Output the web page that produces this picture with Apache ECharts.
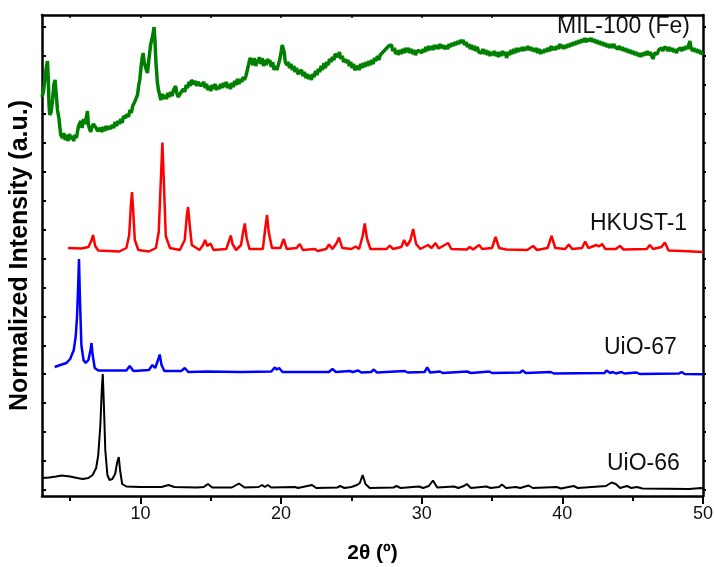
<!DOCTYPE html>
<html>
<head>
<meta charset="utf-8">
<script src="https://cdn.jsdelivr.net/npm/echarts@6/dist/echarts.min.js"></script>
<style>html,body{margin:0;padding:0;background:#fff}#c{width:714px;height:567px}</style>
</head>
<body>
<div id="c"></div>
<script>
// x = 2θ (degrees), y = normalized intensity (stacked, arbitrary units)
const seriesNames = ['MIL-100 (Fe)', 'HKUST-1', 'UiO-67', 'UiO-66'];
const xLabelValues = [10, 20, 30, 40, 50];
const xMinorValues = [5, 15, 25, 35, 45];

const uio66 = [[3.0,22],[3.5,22.5],[4.0,23.5],[4.4,24.5],[5.0,23.5],[5.5,22],[5.9,21],[6.3,22],[6.6,25],[6.85,32],[7.0,45],[7.15,75],[7.25,110],[7.32,126],[7.4,95],[7.5,50],[7.65,25],[7.8,20],[8.0,21],[8.2,26],[8.35,38],[8.46,43],[8.55,30],[8.7,16],[9.0,13.5],[10,13],[11.5,13],[12.0,15],[12.4,13],[14.0,12.5],[14.5,13],[14.8,16],[15.1,12.5],[16.5,12.5],[17.0,16.5],[17.4,12.5],[18.4,13],[18.65,15],[18.85,13],[19.05,15],[19.3,12.5],[21.0,13],[21.2,12],[22.2,15],[22.5,12],[24.0,12.5],[24.2,14],[24.5,12],[25.0,13],[25.4,15],[25.6,17],[25.8,25],[26.0,16],[26.3,12],[28.0,12.5],[28.2,14],[28.5,12],[29.8,13.5],[30.1,12],[30.5,14],[30.8,19.5],[31.1,12.5],[32.3,13.5],[32.6,12],[33.0,14],[33.2,16],[33.5,12],[34.6,13.5],[34.9,12],[35.5,13],[35.7,15.5],[36.0,12],[36.7,13],[37.0,12],[37.6,14.5],[37.9,12],[39.6,13],[39.9,11.5],[40.8,14],[41.1,12],[43.1,14],[43.5,17.5],[43.8,16],[44.1,12],[44.6,14],[44.9,12],[45.3,13],[45.7,11.5],[49.0,11],[49.9,12],[50,11]];

const uio67 = [[3.9,133],[4.3,135],[4.74,137],[5.0,141],[5.26,150],[5.4,164],[5.49,183],[5.56,210],[5.63,241],[5.7,200],[5.8,155],[5.95,140],[6.1,137],[6.3,140],[6.45,150],[6.52,157],[6.6,145],[6.75,132],[7.0,129.5],[9.0,129.5],[9.24,134],[9.5,129],[10.6,130],[10.85,135],[11.05,132],[11.25,140],[11.37,145.5],[11.5,135],[11.7,129],[12.9,129],[13.15,132],[13.4,128],[14.7,128.5],[17.0,128],[17.1,129.5],[17.3,128],[19.3,128.5],[19.55,132.5],[19.7,130.5],[19.86,132],[20.1,128],[23.4,128],[23.65,131],[23.9,128],[24.88,129],[25.1,128],[25.48,129.5],[25.7,127.5],[26.4,128],[26.6,130.5],[26.8,127.5],[28.8,129],[29.0,127.5],[30.2,128],[30.39,132.5],[30.6,127.5],[31.29,128.5],[31.5,127],[33.23,128.5],[33.5,127],[34.8,128.5],[35.0,127],[37.0,127.5],[37.17,129.5],[37.4,127],[39.18,128],[39.4,126.5],[43.0,127],[43.14,129.5],[43.4,127],[43.6,128],[43.8,126.5],[44.2,128],[44.4,126.5],[45.28,127.5],[45.5,126],[48.3,126.5],[48.48,128],[48.7,126],[50,125.7]];

const hkust1 = [[4.85,252],[5.8,251.5],[6.3,253],[6.5,259],[6.63,265],[6.78,254],[7.0,249.5],[8.5,248.5],[9.0,252],[9.2,265],[9.32,295],[9.4,308],[9.48,290],[9.6,260],[9.85,250],[10.6,248.5],[11.1,252],[11.3,268],[11.45,320],[11.56,357.5],[11.66,320],[11.8,264],[12.1,252],[12.8,250],[13.15,260],[13.3,285],[13.39,293],[13.48,278],[13.65,255],[14.2,250],[14.45,255],[14.6,260],[14.75,254],[14.98,256.5],[15.2,250],[16.1,251],[16.3,259],[16.42,264.5],[16.55,256],[16.8,250],[17.15,255],[17.3,268],[17.42,276.5],[17.55,262],[17.75,251],[18.7,251],[18.88,272],[19.0,285],[19.12,268],[19.35,252],[19.95,252],[20.19,261],[20.4,251],[21.1,252],[21.33,256],[21.55,250],[22.4,251],[22.6,249],[23.2,251],[23.41,255.5],[23.65,251],[23.95,257],[24.12,262.5],[24.35,252],[25.0,251],[25.3,253.5],[25.55,251],[25.8,264],[25.95,276.5],[26.1,262],[26.35,251],[27.5,251],[27.73,254.5],[27.95,251],[28.55,253],[28.75,260],[28.95,254],[29.2,260],[29.39,271],[29.6,256],[29.9,251],[30.45,255],[30.7,252],[30.98,257],[31.2,251.5],[31.88,257],[32.1,251],[33.2,250.5],[33.42,253],[33.65,250.5],[34.08,255],[34.3,251],[35.0,252],[35.25,263],[35.5,252],[36.0,250.5],[37.5,250],[37.92,254],[38.2,250],[38.95,252],[39.23,264],[39.5,252],[40.2,251],[40.46,255.5],[40.7,251],[41.4,252],[41.62,258.5],[41.85,252],[42.43,255],[42.6,253.5],[42.83,256],[43.05,251],[43.8,251],[44.09,254],[44.35,250.5],[46.0,251],[46.22,255],[46.45,251],[47.05,253],[47.29,257.5],[47.55,249.5],[48.5,249],[50,248]];

const mil100 = [[3.0,403],[3.1,408],[3.2,420],[3.3,432],[3.39,439],[3.45,420],[3.5,395],[3.55,385],[3.65,388],[3.75,400],[3.85,416],[3.93,420],[4.0,408],[4.1,390],[4.2,382],[4.33,365],[4.45,362],[4.55,367],[4.65,360],[4.75,365],[4.85,359],[4.95,366],[5.05,361],[5.15,364],[5.25,359],[5.35,365],[5.45,362],[5.52,368],[5.6,374],[5.7,376],[5.76,379],[5.85,372],[5.95,381],[6.05,376],[6.15,382],[6.23,389],[6.3,375],[6.38,371],[6.46,368],[6.55,373],[6.65,376],[6.77,378],[6.85,372],[6.95,369],[7.06,367],[7.15,372],[7.25,368],[7.35,373],[7.45,369],[7.55,374],[7.65,370],[7.75,374],[7.85,371],[8.0,375],[8.1,372],[8.2,378],[8.3,374],[8.4,379],[8.5,376],[8.6,381],[8.7,377],[8.8,384],[8.95,382],[9.05,386],[9.15,383],[9.25,390],[9.35,387],[9.45,394],[9.54,392],[9.62,399],[9.7,402],[9.79,405],[9.88,415],[9.95,420],[10.05,434],[10.12,442],[10.19,447],[10.26,438],[10.35,440],[10.42,430],[10.5,427],[10.58,438],[10.65,440],[10.72,455],[10.8,460],[10.88,465],[10.97,473],[11.03,460],[11.1,438],[11.2,418],[11.28,410],[11.37,405],[11.45,400],[11.55,406],[11.65,401],[11.75,405],[11.85,401],[11.95,407],[12.05,403],[12.15,408],[12.25,404],[12.35,410],[12.45,412],[12.5,414],[12.58,407],[12.68,403],[12.75,402],[12.85,407],[12.95,405],[13.05,411],[13.15,408],[13.25,415],[13.35,412],[13.45,418],[13.55,414],[13.62,420],[13.7,422],[13.8,416],[13.9,419],[14.0,414],[14.1,418],[14.22,420],[14.3,414],[14.4,415],[14.5,418],[14.6,412],[14.7,416],[14.8,410],[14.9,414],[15.0,409],[15.1,415],[15.2,411],[15.3,416],[15.4,410],[15.5,414],[15.6,411],[15.7,416],[15.8,412],[15.9,417],[16.0,413],[16.1,418],[16.2,412],[16.3,416],[16.4,411],[16.5,417],[16.6,413],[16.7,419],[16.8,415],[16.9,421],[17.0,416],[17.1,421],[17.2,418],[17.3,423],[17.4,420],[17.5,424],[17.6,430],[17.7,436],[17.8,442],[17.9,444],[18.0,435],[18.1,442],[18.2,434],[18.3,440],[18.37,437],[18.45,443],[18.55,436],[18.65,442],[18.75,434],[18.85,440],[18.95,435],[19.05,441],[19.15,437],[19.2,440],[19.3,433],[19.4,438],[19.5,430],[19.6,434],[19.7,430],[19.79,432],[19.9,440],[20.0,448],[20.08,455],[20.14,457],[20.22,448],[20.3,438],[20.43,435],[20.5,438],[20.6,432],[20.7,436],[20.8,430],[20.9,434],[21.0,428],[21.1,432],[21.2,426],[21.33,427],[21.45,430],[21.55,424],[21.65,428],[21.75,422],[21.85,426],[21.95,421],[22.05,425],[22.16,420],[22.25,426],[22.35,423],[22.45,429],[22.55,425],[22.65,431],[22.75,428],[22.85,434],[22.95,430],[23.05,437],[23.15,432],[23.25,438],[23.35,435],[23.45,441],[23.55,438],[23.65,443],[23.75,440],[23.85,446],[23.94,447],[24.05,443],[24.15,448],[24.25,441],[24.35,444],[24.45,438],[24.55,441],[24.65,437],[24.75,440],[24.85,434],[24.95,438],[25.05,432],[25.15,436],[25.25,430],[25.36,428],[25.45,434],[25.55,430],[25.65,436],[25.75,432],[25.85,437],[25.95,433],[26.05,438],[26.15,434],[26.25,439],[26.35,435],[26.45,440],[26.54,436],[26.65,442],[26.75,439],[26.85,444],[26.95,440],[27.05,445],[27.15,443],[27.25,448],[27.37,447],[27.45,451],[27.55,449],[27.65,454],[27.73,453],[27.85,455],[27.95,449],[28.05,452],[28.15,446],[28.25,450],[28.32,445],[28.45,450],[28.55,446],[28.65,451],[28.75,447],[28.85,452],[28.92,448],[29.05,452],[29.15,447],[29.25,451],[29.35,446],[29.45,450],[29.55,445],[29.63,445],[29.75,450],[29.87,452],[30.0,447],[30.1,451],[30.2,448],[30.3,453],[30.4,449],[30.5,454],[30.6,450],[30.7,454],[30.8,450],[30.9,455],[31.0,451],[31.1,455],[31.2,451],[31.3,456],[31.4,452],[31.5,455],[31.6,451],[31.76,454],[31.85,451],[31.95,456],[32.05,453],[32.15,457],[32.25,454],[32.35,458],[32.45,455],[32.55,459],[32.65,456],[32.75,460],[32.85,457],[32.95,460],[33.05,455],[33.15,458],[33.25,453],[33.35,456],[33.45,451],[33.55,455],[33.65,450],[33.75,454],[33.85,449],[33.95,453],[34.05,448],[34.13,450],[34.25,447],[34.35,451],[34.45,446],[34.55,450],[34.65,445],[34.75,449],[34.85,444],[34.95,448],[35.05,445],[35.15,449],[35.25,444],[35.35,448],[35.45,443],[35.55,448],[35.65,444],[35.75,449],[35.85,445],[35.95,448],[36.03,442],[36.15,448],[36.25,445],[36.35,450],[36.45,446],[36.55,451],[36.65,447],[36.75,452],[36.85,448],[36.95,452],[37.05,449],[37.15,453],[37.25,449],[37.35,453],[37.45,450],[37.55,454],[37.65,450],[37.75,453],[37.85,449],[37.95,452],[38.05,448],[38.15,452],[38.25,447],[38.35,451],[38.45,446],[38.55,450],[38.65,447],[38.75,451],[38.85,448],[38.95,452],[39.1,449],[39.2,454],[39.3,450],[39.4,453],[39.5,450],[39.6,454],[39.7,451],[39.82,456],[39.9,452],[40.0,455],[40.1,451],[40.2,455],[40.3,452],[40.4,456],[40.5,453],[40.6,457],[40.7,454],[40.8,458],[40.9,455],[41.0,459],[41.1,456],[41.2,460],[41.3,457],[41.4,461],[41.5,458],[41.6,462],[41.7,458],[41.8,461],[41.95,459],[42.05,462],[42.15,458],[42.25,461],[42.35,457],[42.45,460],[42.55,456],[42.65,459],[42.75,455],[42.85,458],[42.95,454],[43.05,457],[43.15,453],[43.25,456],[43.35,452],[43.45,456],[43.55,452],[43.65,456],[43.75,453],[43.85,455],[43.95,451],[44.05,454],[44.15,450],[44.25,453],[44.35,449],[44.45,452],[44.55,448],[44.65,451],[44.75,447],[44.85,450],[44.95,446],[45.05,449],[45.15,445],[45.25,448],[45.35,444],[45.45,447],[45.55,443],[45.65,447],[45.75,444],[45.85,448],[45.95,445],[46.05,449],[46.15,445],[46.25,448],[46.35,444],[46.46,441],[46.55,447],[46.65,449],[46.75,446],[46.85,450],[46.95,448],[47.05,452],[47.15,449],[47.25,453],[47.41,452],[47.5,449],[47.6,453],[47.7,449],[47.8,452],[47.9,448],[48.0,451],[48.1,447],[48.2,450],[48.3,448],[48.4,452],[48.5,449],[48.6,453],[48.7,450],[48.8,454],[48.9,451],[49.0,456],[49.07,459],[49.15,452],[49.25,449],[49.35,452],[49.45,448],[49.55,451],[49.65,447],[49.75,450],[49.85,446],[50.0,448]];

const seriesColors = ['#008000', '#ff0000', '#0000ff', '#000000'];
const seriesData = [mil100, hkust1, uio67, uio66];

const Y_MIN = 4, Y_MAX = 485;
const yTickValues = Array.from({length: 17}, (_, k) => 10 + 28.95 * k);
const FONT = "'Liberation Sans', Arial, sans-serif";

const chart = echarts.init(document.getElementById('c'), null, {renderer: 'canvas'});
const axisLineStyle = {color: '#000', width: 2.5};

chart.setOption({
  animation: false,
  backgroundColor: '#fff',
  grid: {left: 42, right: 11, top: 15, bottom: 71, containLabel: false, outerBoundsMode: 'none'},
  xAxis: [
    {
      type: 'value', position: 'bottom', min: 3, max: 50,
      axisLine: {show: true, lineStyle: axisLineStyle},
      axisTick: {show: true, inside: false, length: 8, lineStyle: {color: '#000', width: 2}, customValues: xLabelValues},
      axisLabel: {show: true, customValues: xLabelValues, margin: 9, fontSize: 18, color: '#111', fontFamily: FONT},
      splitLine: {show: false},
      name: '2θ (º)', nameLocation: 'middle', nameGap: 47,
      nameTextStyle: {fontSize: 21, fontWeight: 'bold', color: '#000', fontFamily: FONT}
    },
    {
      type: 'value', position: 'bottom', min: 3, max: 50,
      axisLine: {show: false},
      axisTick: {show: true, inside: false, length: 5, lineStyle: {color: '#000', width: 2}, customValues: xMinorValues},
      axisLabel: {show: false}, splitLine: {show: false}
    },
    {
      type: 'value', position: 'top', min: 3, max: 50,
      axisLine: {show: true, lineStyle: axisLineStyle},
      axisTick: {show: true, inside: true, length: 3, lineStyle: {color: '#000', width: 1.5}, customValues: xMinorValues.concat(xLabelValues)},
      axisLabel: {show: false}, splitLine: {show: false}
    }
  ],
  yAxis: [
    {
      type: 'value', position: 'left', min: Y_MIN, max: Y_MAX,
      axisLine: {show: true, lineStyle: axisLineStyle},
      axisTick: {show: true, inside: true, length: 4, lineStyle: {color: '#000', width: 2}, customValues: yTickValues},
      axisLabel: {show: false}, splitLine: {show: false},
      name: 'Normalized Intensity (a.u.)', nameLocation: 'middle', nameGap: 9, nameRotate: 90,
      nameTextStyle: {fontSize: 25, fontWeight: 'bold', color: '#000', fontFamily: FONT}
    },
    {
      type: 'value', position: 'right', min: Y_MIN, max: Y_MAX,
      axisLine: {show: true, lineStyle: axisLineStyle},
      axisTick: {show: true, inside: false, length: 3, lineStyle: {color: '#000', width: 2}, customValues: yTickValues},
      axisLabel: {show: false}, splitLine: {show: false}
    }
  ],
  series: seriesNames.map((name, i) => ({
    name: name, type: 'line', xAxisIndex: 0, yAxisIndex: 0,
    data: seriesData[i], showSymbol: false, symbol: 'none', smooth: false,
    lineStyle: {color: seriesColors[i], width: i === 0 ? 3.5 : (i === 3 ? 2 : 2.5)},
    itemStyle: {color: seriesColors[i]},
    z: 4 - i
  })),
  graphic: [
    {type: 'text', left: 557, top: 15, style: {text: seriesNames[0], fontSize: 23, fill: '#111', fontFamily: FONT}},
    {type: 'text', left: 590, top: 212, style: {text: seriesNames[1], fontSize: 23, fill: '#111', fontFamily: FONT}},
    {type: 'text', left: 604, top: 336, style: {text: seriesNames[2], fontSize: 23, fill: '#111', fontFamily: FONT}},
    {type: 'text', left: 607, top: 452, style: {text: seriesNames[3], fontSize: 23, fill: '#111', fontFamily: FONT}}
  ]
});
</script>
</body>
</html>
